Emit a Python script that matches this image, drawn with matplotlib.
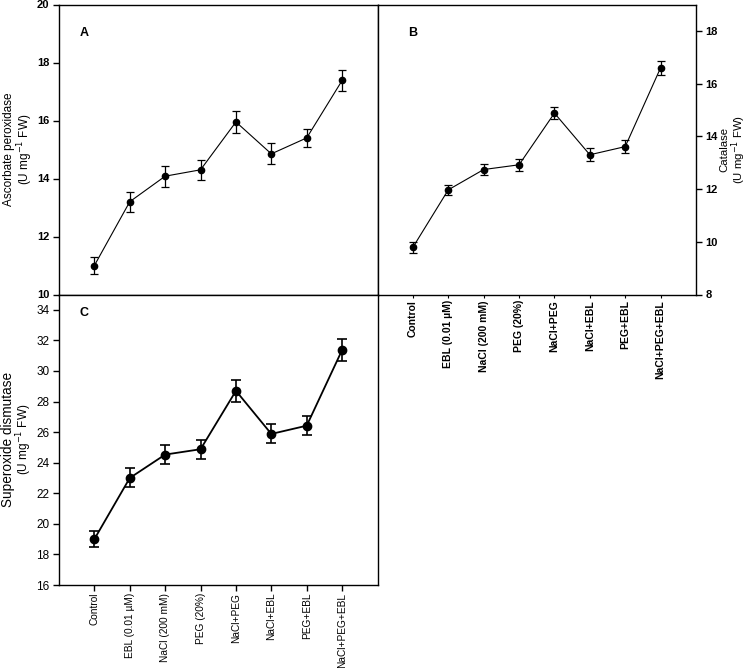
import numpy as np
import matplotlib.pyplot as plt

plt.rcParams['font.family'] = ['Liberation Sans', 'DejaVu Sans']

treatments = ["Control", "EBL (0.01 \u00b5M)", "NaCl (200 mM)", "PEG (20%)",
              "NaCl+PEG", "NaCl+EBL", "PEG+EBL", "NaCl+PEG+EBL"]

apx = [11.0, 13.2, 14.08, 14.3, 15.95, 14.85, 15.4, 17.38]
apx_err = [0.3, 0.34, 0.36, 0.35, 0.38, 0.36, 0.32, 0.35]

cat = [9.79, 11.97, 12.74, 12.92, 14.88, 13.3, 13.61, 16.6]
cat_err = [0.22, 0.2, 0.21, 0.22, 0.24, 0.24, 0.25, 0.27]

sod = [19.0, 23.0, 24.53, 24.88, 28.7, 25.88, 26.42, 31.37]
sod_err = [0.52, 0.62, 0.6, 0.62, 0.72, 0.62, 0.63, 0.74]

x = np.arange(len(treatments))

fig = plt.figure(figsize=(7.5, 6.68), dpi=100)
W, H = 750, 668


def box(l, t, r, b):
    return [l / W, 1 - b / H, (r - l) / W, (b - t) / H]


axA = fig.add_axes(box(59, 4.5, 377.5, 294.5))
axB = fig.add_axes(box(377.5, 4.5, 696, 294.5))
axC = fig.add_axes(box(59, 294.5, 377.5, 585))

for ax in (axA, axB, axC):
    ax.set_xlim(-1, 8)
    for s in ax.spines.values():
        s.set_linewidth(1.0)

# panel A
axA.errorbar(x, apx, yerr=apx_err, fmt='o-', color='black', ms=4.5, lw=0.8,
             elinewidth=0.9, capsize=3, capthick=0.9)
axA.set_ylim(10, 20)
axA.set_yticks(np.arange(10, 21, 2))
axA.set_xticks([])
axA.tick_params(axis='y', direction='out', length=4, width=1, pad=3)
for lbl in axA.get_yticklabels():
    lbl.set_fontsize(8)
    lbl.set_fontweight('bold')
axA.text(-0.126, 0.5, "Ascorbate peroxidase\n(U mg$^{-1}$ FW)",
         transform=axA.transAxes, fontsize=8.5, rotation=90,
         ha='center', va='center', linespacing=1.0)
axA.text(0.065, 0.9, "A", transform=axA.transAxes, fontsize=9,
         fontweight='bold', ha='left', va='center')

# panel B
axB.errorbar(x, cat, yerr=cat_err, fmt='o-', color='black', ms=4.5, lw=0.8,
             elinewidth=0.9, capsize=3, capthick=0.9)
axB.set_ylim(8, 19)
axB.set_yticks(np.arange(8, 19, 2))
axB.yaxis.tick_right()
axB.tick_params(axis='y', direction='out', length=4, width=1, pad=3)
for lbl in axB.get_yticklabels():
    lbl.set_fontsize(8)
    lbl.set_fontweight('bold')
axB.set_xticks(x)
axB.set_xticklabels(treatments, rotation=90, fontsize=7.5, fontweight='bold')
axB.tick_params(axis='x', direction='out', length=2, width=0.8, pad=2)
axB.text(1.118, 0.5, "Catalase\n(U mg$^{-1}$ FW)", transform=axB.transAxes,
         fontsize=8.2, rotation=90, ha='center', va='center', linespacing=0.95)
axB.text(0.095, 0.9, "B", transform=axB.transAxes, fontsize=9,
         fontweight='bold', ha='left', va='center')

# panel C
axC.errorbar(x, sod, yerr=sod_err, fmt='o-', color='black', ms=6, lw=1.3,
             elinewidth=1.2, capsize=3.8, capthick=1.2)
axC.set_ylim(16, 35)
axC.set_yticks(np.arange(16, 35, 2))
axC.tick_params(axis='y', direction='out', length=4, width=1, pad=3,
                labelsize=8.5)
axC.set_xticks(x)
axC.set_xticklabels(treatments, rotation=90, fontsize=7.3)
axC.tick_params(axis='x', direction='out', length=4, width=1, pad=1.5)
axC.text(-0.16, 0.5, "Superoxide dismutase", transform=axC.transAxes,
         fontsize=9.8, rotation=90, ha='center', va='center')
axC.text(-0.108, 0.5, "(U mg$^{-1}$ FW)", transform=axC.transAxes,
         fontsize=8.5, rotation=90, ha='center', va='center')
axC.text(0.065, 0.938, "C", transform=axC.transAxes, fontsize=9,
         fontweight='bold', ha='left', va='center')

fig.savefig("out.png", dpi=100)
